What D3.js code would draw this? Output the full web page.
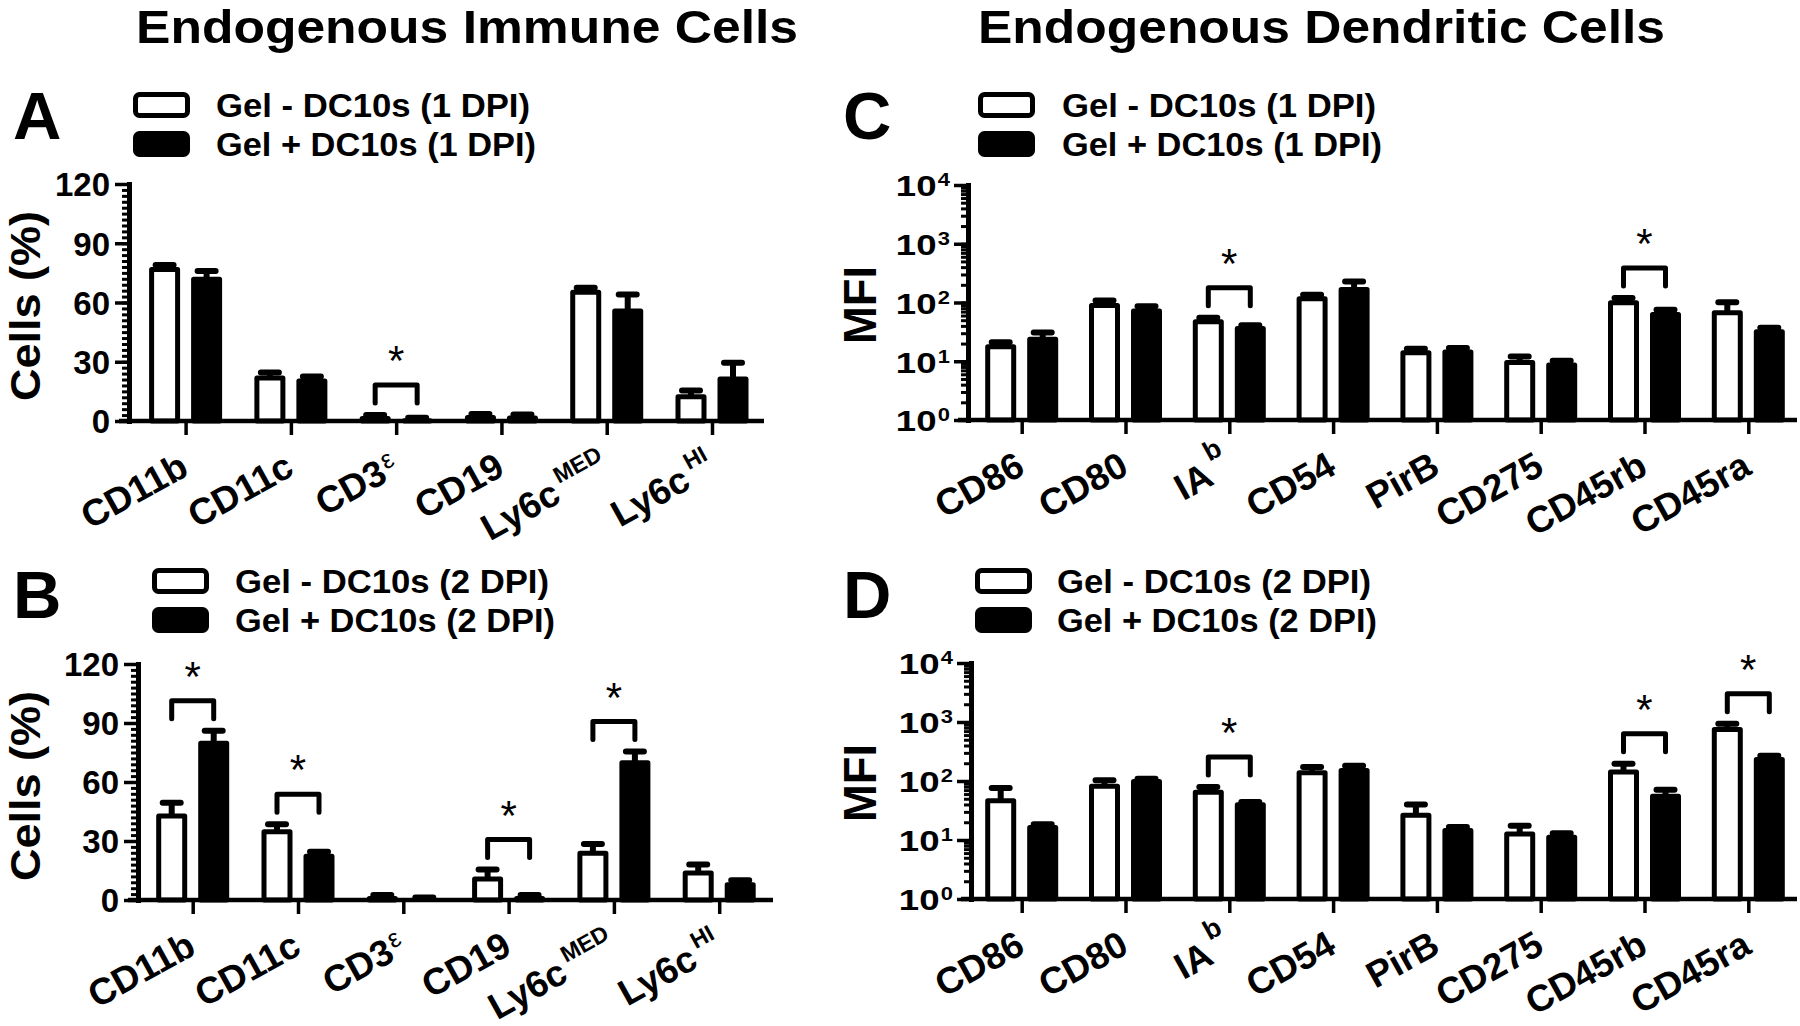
<!DOCTYPE html>
<html><head><meta charset="utf-8">
<script src="https://cdn.jsdelivr.net/npm/d3@7"></script>
<style>body{margin:0;background:#fff} svg{display:block}</style>
</head><body>
<svg id="c" width="1800" height="1026"></svg>
<script>
// ---------- data ----------
const catsAB = ["CD11b","CD11c","CD3ε","CD19","Ly6cMED","Ly6cHI"];
const baseAB = ["CD11b","CD11c","CD3","CD19","Ly6c","Ly6c"];
const supAB  = ["","","ε","","MED","HI"];
const catsCD = ["CD86","CD80","IAb","CD54","PirB","CD275","CD45rb","CD45ra"];
const baseCD = ["CD86","CD80","IA","CD54","PirB","CD275","CD45rb","CD45ra"];
const supCD  = ["","","b","","","","",""];

const aMinus    = [78, 23, 2.5, 3, 66.5, 13.5];
const aMinusErr = [1, 1.5, 0.5, 0.5, 1, 2];
const aPlus     = [73, 21.5, 1.4, 2.8, 57, 22.5];
const aPlusErr  = [3, 1, 0.3, 0.5, 7, 7];
const aSig = ["CD3ε"];

const bMinus    = [44, 36, 2, 12, 25, 15];
const bMinusErr = [5.5, 2.5, 0.5, 3.5, 3.5, 3];
const bPlus     = [81, 23.5, 1, 2, 71, 9];
const bPlusErr  = [5, 1, 0.3, 0.5, 4.5, 1];
const bSig = ["CD11b","CD11c","CD19","Ly6cMED"];

const cMinus    = [19.5, 98, 52, 128, 15.4, 10.5, 109, 74];
const cMinusErr = [1.5, 10, 3, 7, 1, 1.5, 10, 27];
const cPlus     = [26, 79, 40, 183, 15.8, 9.5, 69, 35];
const cPlusErr  = [5, 7, 1, 45, 1, 0.7, 6, 2];
const cSig = ["IAb","CD45rb"];

const dMinus    = [51, 90, 71, 152, 29, 14, 156, 822];
const dMinusErr = [25, 13, 8, 21, 11, 3.5, 41, 113];
const dPlus     = [18, 108, 43.5, 166, 16, 12.3, 61, 255];
const dPlusErr  = [0.5, 1, 0.5, 16, 0.6, 0.7, 10, 14];
const dSig = ["IAb","CD45rb","CD45ra"];

const linTicks = [0, 30, 60, 90, 120];
const linMinor = d3.range(0, 121, 3);
const logTicks = [1, 10, 100, 1000, 10000];

const legend1 = ["Gel - DC10s (1 DPI)", "Gel + DC10s (1 DPI)"];
const legend2 = ["Gel - DC10s (2 DPI)", "Gel + DC10s (2 DPI)"];
const titles = ["Endogenous Immune Cells", "Endogenous Dendritic Cells"];

// ---------- drawing ----------
const FONT = '"Liberation Sans", Arial, Helvetica, sans-serif';
const svg = d3.select("#c").style("font-family", FONT);

svg.append("text").attr("x", 136).attr("y", 43).attr("font-size", 47).attr("font-weight", "bold")
  .attr("textLength", 662).attr("lengthAdjust", "spacingAndGlyphs").text(titles[0]);
svg.append("text").attr("x", 978).attr("y", 43).attr("font-size", 47).attr("font-weight", "bold")
  .attr("textLength", 687).attr("lengthAdjust", "spacingAndGlyphs").text(titles[1]);

function panel(cfg) {
  const g = svg.append("g");
  const x = d3.scalePoint().domain(cfg.cats).range([cfg.p0, cfg.p1]);
  const y = cfg.log
    ? d3.scaleLog().domain([1, 1e4]).range([cfg.yb, cfg.yt])
    : d3.scaleLinear().domain([0, 120]).range([cfg.yb, cfg.yt]);
  const w = 31, off = 21;
  const base = y.range()[0];

  const series = [
    {vals: cfg.minus, errs: cfg.minusErr, dx: -off, fill: "#fff"},
    {vals: cfg.plus, errs: cfg.plusErr, dx: off, fill: "#000"}
  ];
  series.forEach(s => {
    const rows = cfg.cats.map((c, i) => ({c, v: s.vals[i], e: s.errs[i]}));
    g.append("g").selectAll("path").data(rows).join("path")
      .attr("d", d => {
        const cx = x(d.c) + s.dx, y0 = y(d.v), y1 = y(d.v + d.e);
        return `M${cx},${y0}V${y1}M${cx - 9},${y1}H${cx + 9}`;
      })
      .attr("stroke", "#000").attr("stroke-width", 6).attr("stroke-linecap", "round").attr("fill", "none");
    g.append("g").selectAll("rect").data(rows).join("rect")
      .attr("x", d => x(d.c) + s.dx - w / 2 + 2.5)
      .attr("width", w - 5)
      .attr("y", d => y(d.v) + 2.5)
      .attr("height", d => Math.max(0, base - y(d.v) - 2.5))
      .attr("fill", s.fill).attr("stroke", "#000").attr("stroke-width", 5).attr("stroke-linejoin", "round");
  });

  // significance brackets
  cfg.sig.forEach(c => {
    const i = cfg.cats.indexOf(c);
    const top = Math.min(y(cfg.minus[i] + cfg.minusErr[i]), y(cfg.plus[i] + cfg.plusErr[i]));
    const legB = top - 12, brT = legB - 18;
    const xl = x(c) - off, xr = x(c) + off;
    g.append("path").attr("d", `M${xl},${legB}V${brT}H${xr}V${legB}`)
      .attr("fill", "none").attr("stroke", "#000").attr("stroke-width", 5)
      .attr("stroke-linecap", "round").attr("stroke-linejoin", "round");
    g.append("text").attr("x", x(c)).attr("y", brT - 10).attr("text-anchor", "middle")
      .attr("font-size", 42).text("*");
  });

  // y axis
  const minor = cfg.log ? y.ticks() : linMinor;
  const ym = g.append("g").attr("transform", `translate(${cfg.x0},0)`)
    .call(d3.axisLeft(y).tickValues(minor).tickSize(7).tickSizeOuter(0).tickFormat(""));
  ym.select(".domain").attr("stroke-width", 5).attr("stroke-linecap", "square");
  ym.selectAll(".tick line").attr("stroke-width", 3);
  const yM = g.append("g").attr("transform", `translate(${cfg.x0},0)`)
    .call(d3.axisLeft(y).tickValues(cfg.log ? logTicks : linTicks).tickSize(14).tickSizeOuter(0).tickPadding(5));
  yM.select(".domain").remove();
  yM.selectAll(".tick line").attr("stroke-width", 3.5);
  yM.selectAll(".tick text").attr("font-size", 33).attr("font-weight", "bold").attr("font-family", FONT)
    .attr("fill", "#000").attr("dy", "0.36em");
  if (cfg.log) {
    yM.selectAll(".tick text").each(function (d) {
      const t = d3.select(this).text("").attr("x", null).attr("dy", "0.36em")
        .attr("font-size", 30).attr("transform", "translate(-18,0) scale(1.22,1)");
      t.append("tspan").text("10");
      t.append("tspan").attr("font-size", 18).attr("dy", -10).attr("dx", 1).text(String(Math.round(Math.log10(d))));
    });
  }

  // x axis
  g.append("line").attr("x1", cfg.x0 - 10).attr("x2", cfg.x1).attr("y1", base).attr("y2", base)
    .attr("stroke", "#000").attr("stroke-width", 4.5);
  const xa = g.append("g").attr("transform", `translate(0,${base})`)
    .call(d3.axisBottom(x).tickSize(14).tickSizeOuter(0).tickFormat(""));
  xa.select(".domain").remove();
  xa.selectAll(".tick line").attr("stroke-width", 3.5);

  // x labels
  cfg.cats.forEach((c, i) => {
    const t = g.append("text")
      .attr("transform", `translate(${x(c) + 5},${base + 53}) rotate(-29)`)
      .attr("text-anchor", "end").attr("font-size", 37).attr("font-weight", "bold");
    t.append("tspan").text(cfg.base[i]);
    if (cfg.sup[i]) {
      const isEps = cfg.sup[i] === "ε";
      const isB = cfg.sup[i] === "b";
      t.append("tspan").attr("dy", isEps ? -11 : (isB ? -22 : -17)).attr("dx", isEps ? 2 : 5)
        .attr("font-size", isEps ? 26 : (isB ? 27 : 23))
        .attr("font-weight", isEps ? "normal" : "bold")
        .text(cfg.sup[i]);
    }
  });

  // y label
  g.append("text")
    .attr("transform", `translate(${cfg.ylx},${cfg.yly}) rotate(-90)`)
    .attr("text-anchor", "middle").attr("font-size", cfg.ylFs).attr("font-weight", "bold")
    .attr("textLength", cfg.ylLen).attr("lengthAdjust", "spacingAndGlyphs").text(cfg.ylabel);

  // panel letter
  g.append("text").attr("x", cfg.lx).attr("y", cfg.ly).attr("font-size", 67).attr("font-weight", "bold").text(cfg.letter);

  // legend
  const fills = ["#fff", "#000"];
  cfg.legend.forEach((lab, k) => {
    const by = cfg.legY[k];
    g.append("rect").attr("x", cfg.legX + 2.5).attr("y", by + 2.5).attr("width", 52).attr("height", 21)
      .attr("rx", 4).attr("fill", fills[k]).attr("stroke", "#000").attr("stroke-width", 5);
    g.append("text").attr("x", cfg.legTX).attr("y", by + 24.5).attr("font-size", 33).attr("font-weight", "bold")
      .attr("textLength", k === 0 ? 314 : 320).attr("lengthAdjust", "spacingAndGlyphs").text(lab);
  });
}

panel({cats: catsAB, base: baseAB, sup: supAB, minus: aMinus, minusErr: aMinusErr, plus: aPlus, plusErr: aPlusErr, sig: aSig,
  x0: 129, x1: 764, p0: 185.6, p1: 712, yt: 184, yb: 421, log: false,
  ylabel: "Cells (%)", ylx: 40, yly: 306, ylLen: 190, ylFs: 42, letter: "A", lx: 13, ly: 139,
  legend: legend1, legX: 133, legY: [92, 131], legTX: 216});
panel({cats: catsAB, base: baseAB, sup: supAB, minus: bMinus, minusErr: bMinusErr, plus: bPlus, plusErr: bPlusErr, sig: bSig,
  x0: 138, x1: 773, p0: 192.7, p1: 719.2, yt: 664, yb: 900, log: false,
  ylabel: "Cells (%)", ylx: 40, yly: 786, ylLen: 190, ylFs: 42, letter: "B", lx: 13, ly: 618,
  legend: legend2, legX: 152, legY: [568, 607], legTX: 235});
panel({cats: catsCD, base: baseCD, sup: supCD, minus: cMinus, minusErr: cMinusErr, plus: cPlus, plusErr: cPlusErr, sig: cSig,
  x0: 968, x1: 1797, p0: 1021.7, p1: 1748.3, yt: 185, yb: 420, log: true,
  ylabel: "MFI", ylx: 876, yly: 305, ylLen: 78, ylFs: 46, letter: "C", lx: 843, ly: 139,
  legend: legend1, legX: 978, legY: [92, 131], legTX: 1062});
panel({cats: catsCD, base: baseCD, sup: supCD, minus: dMinus, minusErr: dMinusErr, plus: dPlus, plusErr: dPlusErr, sig: dSig,
  x0: 971, x1: 1797, p0: 1021.7, p1: 1748.3, yt: 663, yb: 899, log: true,
  ylabel: "MFI", ylx: 876, yly: 783, ylLen: 78, ylFs: 46, letter: "D", lx: 843, ly: 618,
  legend: legend2, legX: 975, legY: [568, 607], legTX: 1057});
</script>
</body></html>
